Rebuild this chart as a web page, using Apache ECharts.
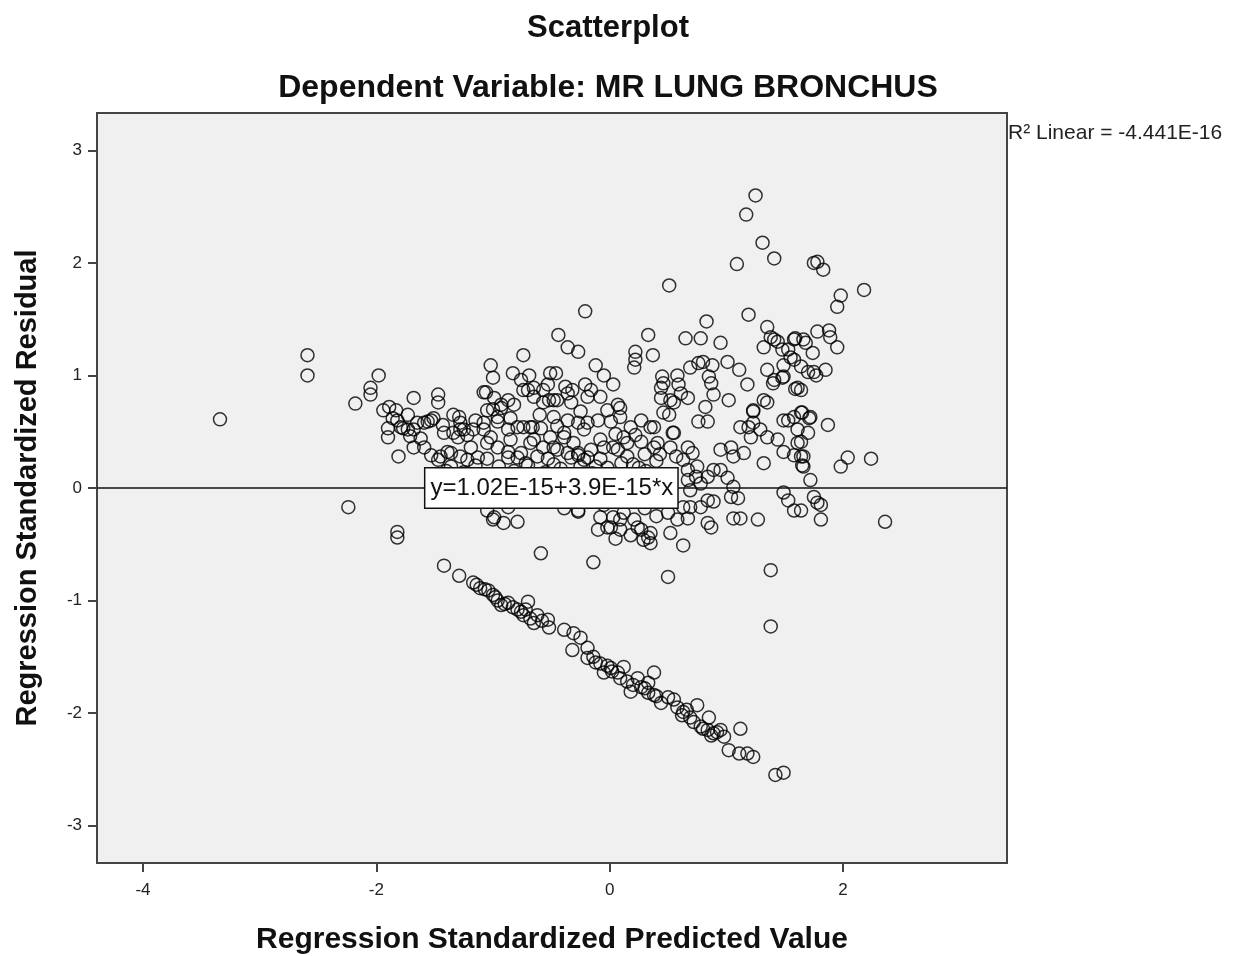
<!DOCTYPE html>
<html lang="en">
<head>
    <meta charset="UTF-8">
    <title>Scatterplot</title>
    <script src="https://cdn.jsdelivr.net/npm/echarts@6/dist/echarts.min.js"></script>
    <style type="text/css">
        html, body { margin: 0; height: 100%; background: #fff; }
        #main { width: 1233px; height: 956px; }
    </style>
</head>
<body>
<div id="main"></div>
<script>
    // axis setup
    const xTicks = [-4, -2, 0, 2];
    const yTicks = [-3, -2, -1, 0, 1, 2, 3];
    const xRange = [-4.394, 3.405];
    const yRange = [-3.333, 3.333];

    // fit line
    const fitIntercept = 1.02e-15;
    const fitSlope = 3.9e-15;
    const fitLabel = 'y=1.02E-15+3.9E-15*x';
    const r2Label = 'R\u00b2 Linear = -4.441E-16';

    // points: [predicted, residual]
    const outlierPoints = [
        [-3.34, 0.61], [-2.59, 1.18], [-2.59, 1.00], [-2.24, -0.17], [-1.82, -0.39], [-1.82, -0.44],
        [-1.98, 1.00], [-2.05, 0.89], [-2.05, 0.83], [-2.18, 0.75], [-0.14, -0.66], [-0.59, -0.58],
        [0.50, -0.79], [1.38, -0.73], [1.38, -1.23], [2.36, -0.30], [2.24, 0.26], [2.18, 1.76],
        [1.25, 2.60], [1.17, 2.43], [1.31, 2.18], [1.41, 2.04], [1.09, 1.99], [0.51, 1.80], [-0.21, 1.57]
    ];

    const leftCloud = [
        [-1.68, 0.80], [-1.47, 0.83], [-1.47, 0.76], [-1.89, 0.72], [-1.94, 0.69], [-1.83, 0.69],
        [-1.73, 0.65], [-1.90, 0.53], [-1.90, 0.45], [-1.82, 0.60], [-1.77, 0.53], [-1.68, 0.52],
        [-1.59, 0.58], [-1.53, 0.60], [-1.68, 0.36], [-1.59, 0.36], [-1.81, 0.28], [-1.53, 0.29],
        [-1.47, 0.25], [-1.79, 0.54], [-1.73, 0.52], [-1.65, 0.58], [-1.56, 0.59], [-1.51, 0.62],
        [-1.34, 0.65], [-1.28, 0.52], [-1.30, 0.45], [-1.22, 0.47], [-1.17, 0.52], [-1.39, 0.32],
        [-1.28, 0.28], [-1.22, 0.25], [-1.29, 0.63], [-1.28, 0.58], [-1.42, 0.49], [-1.34, 0.49],
        [-1.25, 0.52], [-1.19, 0.36], [-1.36, 0.31], [-1.45, 0.28], [-1.13, 0.27], [-1.62, 0.44],
        [-1.86, 0.62], [-1.71, 0.46], [-1.43, 0.56], [-1.36, 0.19], [-1.05, -0.20], [-1.00, -0.28],
        [-1.40, 0.15], [-1.25, 0.14], [-1.15, 0.20], [-1.15, 0.60], [-1.00, 0.70]
    ];

    const middleCloud = [
        [-1.08, 0.85], [-0.99, 0.80], [-1.05, 0.69], [-0.93, 0.71], [-0.87, 0.78], [-1.08, 0.58],
        [-0.96, 0.59], [-0.87, 0.52], [-0.79, 0.54], [-1.05, 0.40], [-0.96, 0.36], [-0.87, 0.32],
        [-0.76, 0.31], [-0.70, 0.87], [-0.65, 0.81], [-0.57, 0.76], [-0.48, 0.78], [-0.36, 0.84],
        [-0.76, 0.96], [-0.65, 0.89], [-0.53, 0.92], [-0.68, 0.54], [-0.59, 0.53], [-0.65, 0.43],
        [-0.57, 0.36], [-0.48, 0.63], [-0.36, 0.60], [-0.39, 0.49], [-0.27, 0.58], [-0.22, 0.52],
        [-0.48, 0.36], [-0.36, 0.31], [-0.27, 0.29], [-0.19, 0.27], [-0.16, 0.87], [-0.08, 0.81],
        [0.03, 0.92], [0.07, 0.74], [-0.02, 0.69], [-0.10, 0.60], [0.01, 0.59], [0.09, 0.63],
        [0.18, 0.54], [0.27, 0.60], [0.35, 0.54], [-0.08, 0.43], [0.03, 0.36], [0.15, 0.40],
        [0.27, 0.41], [0.38, 0.36], [0.41, 0.40], [-0.44, 1.36], [-0.36, 1.25], [-0.27, 1.21],
        [-0.12, 1.09], [-0.74, 1.18], [-1.02, 1.09], [-1.00, 0.98], [-1.06, 0.85], [-0.69, 1.00],
        [-0.74, 0.87], [-0.51, 1.02], [-0.46, 1.02], [-0.38, 0.90], [-0.32, 0.87], [-0.21, 0.92],
        [-0.57, 0.87], [-0.52, 0.78], [-0.93, 0.74], [-0.82, 0.74], [-0.96, 0.63], [-0.45, 0.78],
        [-0.33, 0.76], [-0.19, 0.81], [-1.08, 0.52], [-1.02, 0.45], [-0.74, 0.54], [-0.66, 0.54],
        [-0.51, 0.45], [-0.39, 0.45], [-0.31, 0.40], [-0.19, 0.58], [0.09, 0.71], [0.12, 0.45],
        [-0.85, 0.43], [-0.68, 0.40], [-0.45, 0.34], [-0.27, 0.31], [-0.16, 0.34], [-0.05, 0.36],
        [0.07, 0.34], [0.15, 0.28], [-1.05, 0.26], [-0.87, 0.27], [-0.79, 0.27], [-0.62, 0.28],
        [-0.53, 0.26], [-0.33, 0.27], [-0.22, 0.25], [-0.08, 0.26], [-0.99, -0.26], [-0.91, -0.31],
        [-0.79, -0.30], [-0.87, -0.17], [-0.27, -0.21], [-0.39, -0.18], [-0.27, -0.20], [-0.08, -0.26],
        [0.03, -0.26], [0.12, -0.22], [0.21, -0.28], [-0.02, -0.35], [0.09, -0.37], [0.24, -0.35],
        [0.35, -0.40], [0.29, -0.46], [-0.10, -0.37], [0.01, -0.35], [0.09, -0.28], [0.27, -0.37],
        [0.33, -0.44], [0.35, -0.49], [-0.95, 0.19], [-0.70, 0.20], [-0.42, 0.17], [-0.12, 0.19],
        [0.20, 0.21], [-0.60, 0.12], [0.03, 0.10], [0.31, 0.15], [-0.83, 1.02], [-0.05, 1.00],
        [-0.98, 0.12], [-0.82, 0.15], [-0.72, 0.22], [-0.55, 0.14], [-0.48, 0.21], [-0.30, 0.12],
        [-0.25, 0.19], [-0.15, 0.13], [-0.02, 0.18], [0.10, 0.22], [0.25, 0.18], [0.40, 0.24],
        [0.45, 0.12], [0.05, 0.48], [0.22, 0.47], [0.30, 0.30], [0.43, 0.30], [-0.45, 0.55],
        [-0.60, 0.65], [-0.25, 0.68], [-0.85, 0.62], [-0.05, -0.15], [0.15, -0.12], [0.30, -0.18],
        [0.40, -0.25], [0.05, -0.45], [0.18, -0.42], [-0.20, -0.12], [0.45, -0.08]
    ];

    const rightCloud = [
        [0.44, 0.89], [0.52, 0.78], [0.61, 0.84], [0.46, 0.67], [0.55, 0.49], [0.67, 0.36],
        [0.63, 0.25], [0.67, 0.07], [0.69, -0.02], [0.50, -0.22], [0.58, -0.28], [0.63, -0.17],
        [0.33, 1.36], [0.65, 1.33], [0.78, 1.33], [0.95, 1.29], [0.22, 1.21], [0.22, 1.14],
        [0.37, 1.18], [0.21, 1.07], [0.45, 0.99], [0.46, 0.93], [0.58, 1.00], [0.59, 0.92],
        [0.44, 0.80], [0.55, 0.76], [0.67, 0.80], [0.69, 1.07], [0.76, 1.11], [0.80, 1.12],
        [0.88, 1.09], [0.85, 0.99], [0.87, 0.93], [1.01, 1.12], [1.11, 1.05], [1.18, 0.92],
        [0.89, 0.83], [0.82, 0.72], [1.02, 0.78], [0.76, 0.59], [0.84, 0.59], [0.51, 0.65],
        [0.54, 0.49], [0.38, 0.54], [0.52, 0.36], [0.57, 0.28], [0.71, 0.31], [0.75, 0.19],
        [0.67, 0.16], [0.74, 0.10], [0.78, 0.04], [0.84, 0.10], [0.89, 0.16], [0.95, 0.16],
        [1.01, 0.09], [1.06, 0.01], [0.84, -0.11], [0.89, -0.12], [1.04, -0.08], [1.10, -0.09],
        [0.78, -0.17], [0.69, -0.17], [0.67, -0.27], [0.84, -0.31], [0.87, -0.35], [1.06, -0.27],
        [1.12, -0.27], [1.27, -0.28], [0.52, -0.40], [0.63, -0.51], [0.83, 1.48], [1.19, 1.54],
        [0.95, 0.34], [1.04, 0.36], [1.06, 0.28], [1.15, 0.31], [1.32, 0.22], [1.12, 0.54],
        [1.19, 0.54], [1.23, 0.58], [1.29, 0.52], [1.21, 0.45], [1.23, 0.68], [1.23, 0.69]
    ];

    const farRightCloud = [
        [1.75, 2.00], [1.78, 2.01], [1.83, 1.94], [1.98, 1.71], [1.95, 1.61], [1.35, 1.43],
        [1.38, 1.34], [1.44, 1.30], [1.59, 1.33], [1.48, 1.23], [1.55, 1.16], [1.58, 1.14],
        [1.78, 1.39], [1.88, 1.40], [1.89, 1.34], [1.95, 1.25], [1.32, 1.25], [1.41, 1.32],
        [1.53, 1.23], [1.58, 1.32], [1.68, 1.29], [1.74, 1.20], [1.64, 1.08], [1.75, 1.03],
        [1.49, 1.09], [1.35, 1.05], [1.41, 0.96], [1.49, 0.99], [1.61, 0.89], [1.48, 0.98],
        [1.40, 0.93], [1.59, 0.88], [1.70, 1.03], [1.77, 1.00], [1.85, 1.05], [1.66, 1.32],
        [1.64, 0.87], [1.32, 0.78], [1.35, 0.76], [1.35, 0.45], [1.44, 0.43], [1.49, 0.60],
        [1.58, 0.63], [1.64, 0.67], [1.72, 0.63], [1.61, 0.52], [1.70, 0.49], [1.53, 0.60],
        [1.71, 0.62], [1.87, 0.56], [1.65, 0.67], [1.61, 0.40], [1.64, 0.41], [1.49, 0.32],
        [1.58, 0.29], [1.64, 0.28], [1.66, 0.28], [1.65, 0.20], [1.66, 0.19], [1.72, 0.07],
        [1.98, 0.19], [2.04, 0.27], [1.49, -0.04], [1.53, -0.11], [1.58, -0.20], [1.75, -0.08],
        [1.78, -0.13], [1.81, -0.15], [1.81, -0.28], [1.64, -0.20]
    ];

    const lowerBand = [
        [-1.42, -0.69], [-1.29, -0.78], [-1.17, -0.84], [-1.14, -0.86], [-1.11, -0.89], [-1.04, -0.91],
        [-1.00, -0.95], [-0.96, -1.00], [-0.93, -1.04], [-0.87, -1.02], [-0.83, -1.06], [-0.79, -1.08],
        [-0.70, -1.01], [-0.74, -1.13], [-0.68, -1.16], [-0.65, -1.20], [-0.62, -1.13], [-0.53, -1.17],
        [-0.52, -1.24], [-0.39, -1.26], [-0.31, -1.29], [-0.25, -1.33], [-0.32, -1.44], [-0.19, -1.42],
        [-0.19, -1.51], [-0.14, -1.50], [-0.08, -1.56], [-0.05, -1.64], [0.01, -1.60], [0.07, -1.64],
        [0.12, -1.59], [0.09, -1.69], [0.15, -1.72], [0.18, -1.81], [0.24, -1.69], [0.27, -1.77],
        [0.33, -1.73], [0.38, -1.64], [0.33, -1.82], [0.38, -1.84], [0.44, -1.91], [0.50, -1.86],
        [0.55, -1.88], [0.58, -1.95], [0.63, -1.99], [0.69, -2.04], [0.75, -1.93], [0.72, -2.08],
        [0.78, -2.12], [0.85, -2.04], [0.84, -2.15], [0.89, -2.18], [0.95, -2.15], [0.98, -2.21],
        [1.12, -2.14], [1.02, -2.33], [1.11, -2.36], [1.18, -2.36], [1.23, -2.39], [1.42, -2.55],
        [1.49, -2.53], [-1.07, -0.90], [-0.98, -0.97], [-0.90, -1.03], [-0.76, -1.10], [-0.72, -1.08],
        [-0.58, -1.18], [0.02, -1.63], [0.20, -1.75], [0.30, -1.78], [0.40, -1.85], [0.62, -2.02],
        [0.66, -1.97], [0.80, -2.14], [0.92, -2.17], [0.87, -2.20], [-0.12, -1.55], [-0.02, -1.58]
    ];

    const allPoints = [].concat(outlierPoints, leftCloud, middleCloud, rightCloud, farRightCloud, lowerBand);

    const font = '"Liberation Sans", Arial, sans-serif';
    const ink = '#222';

    const myChart = echarts.init(document.getElementById('main'), null, {renderer: 'canvas'});

    const option = {
        backgroundColor: '#fff',
        animation: false,
        grid: {
            left: 97, right: 226, top: 113, bottom: 93,
            outerBoundsMode: 'none',
            show: true,
            backgroundColor: '#f0f0f0',
            borderColor: '#444',
            borderWidth: 2
        },
        xAxis: {
            type: 'value',
            min: xRange[0],
            max: xRange[1],
            name: 'Regression Standardized Predicted Value',
            nameLocation: 'middle',
            nameGap: 62,
            nameTextStyle: {fontFamily: font, fontSize: 30, fontWeight: 'bold', color: '#111'},
            axisLine: {show: true, onZero: false, lineStyle: {color: '#444', width: 2}},
            axisTick: {show: true, inside: false, length: 9, customValues: xTicks, lineStyle: {color: '#444', width: 2}},
            axisLabel: {customValues: xTicks, margin: 19, fontFamily: font, fontSize: 17, color: ink},
            splitLine: {show: false}
        },
        yAxis: {
            type: 'value',
            min: yRange[0],
            max: yRange[1],
            name: 'Regression Standardized Residual',
            nameLocation: 'middle',
            nameGap: 55,
            nameTextStyle: {fontFamily: font, fontSize: 29, fontWeight: 'bold', color: '#111'},
            axisLine: {show: true, onZero: false, lineStyle: {color: '#444', width: 2}},
            axisTick: {show: true, inside: false, length: 9, customValues: yTicks, lineStyle: {color: '#444', width: 2}},
            axisLabel: {customValues: yTicks, margin: 15, fontFamily: font, fontSize: 17, color: ink},
            splitLine: {show: false}
        },
        graphic: [
            {type: 'text', x: 608, y: 28, style: {text: 'Scatterplot', font: 'bold 31px ' + font, fill: '#111', textAlign: 'center', textVerticalAlign: 'middle'}},
            {type: 'text', x: 608, y: 88, style: {text: 'Dependent Variable: MR LUNG BRONCHUS', font: 'bold 32px ' + font, fill: '#111', textAlign: 'center', textVerticalAlign: 'middle'}},
            {type: 'text', x: 1008, y: 133, style: {text: r2Label, font: '21px ' + font, fill: ink, textAlign: 'left', textVerticalAlign: 'middle'}}
        ],
        series: [
            {
                type: 'line',
                data: [
                    [xRange[0], fitIntercept + fitSlope * xRange[0]],
                    [xRange[1], fitIntercept + fitSlope * xRange[1]]
                ],
                symbol: 'none',
                lineStyle: {color: '#111', width: 1.5},
                z: 3,
                markPoint: {
                    symbol: 'circle',
                    symbolSize: 0,
                    label: {
                        show: true,
                        position: 'inside',
                        formatter: fitLabel,
                        fontFamily: font,
                        fontSize: 24,
                        color: '#111',
                        backgroundColor: '#fff',
                        borderColor: '#111',
                        borderWidth: 1.5,
                        padding: [8, 4, 7, 5]
                    },
                    z: 10,
                    data: [{coord: [-0.5, fitIntercept + fitSlope * -0.5]}]
                }
            },
            {
                type: 'scatter',
                data: allPoints,
                symbol: 'circle',
                symbolSize: 13,
                itemStyle: {color: 'rgba(0,0,0,0)', borderColor: '#000', borderWidth: 1.5},
                z: 2
            }
        ]
    };

    myChart.setOption(option);
</script>
</body>
</html>
